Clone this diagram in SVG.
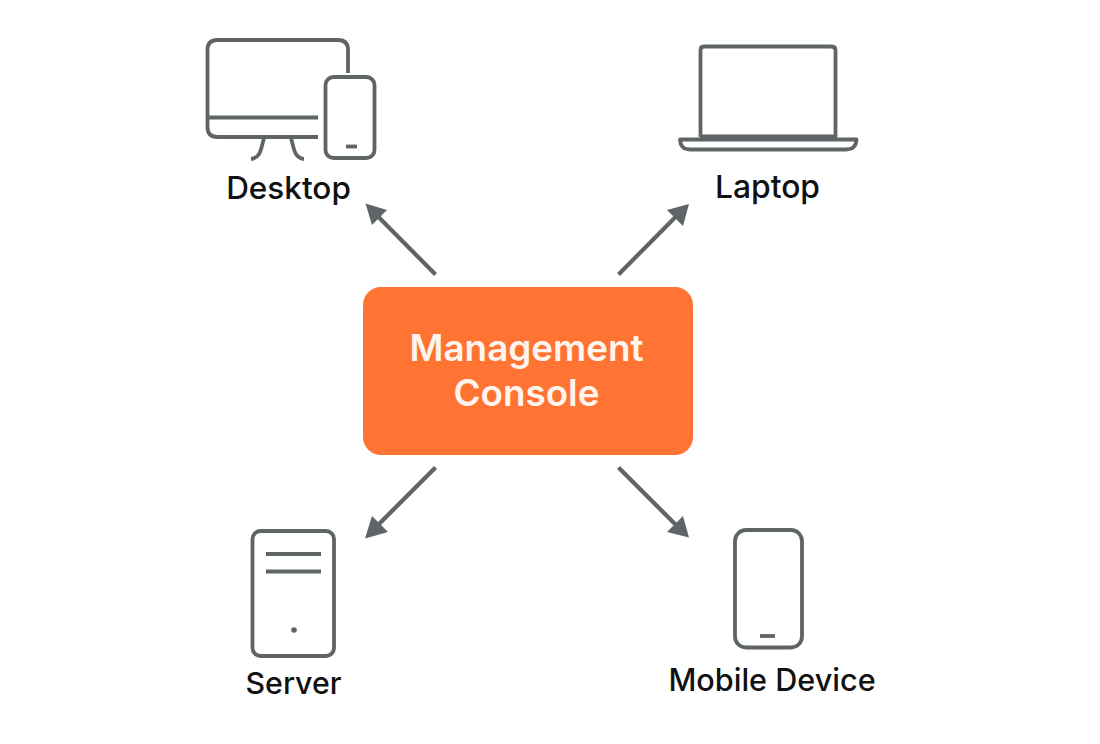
<svg xmlns="http://www.w3.org/2000/svg" width="1100" height="744" viewBox="0 0 1100 744">
<style>
.i{fill:none;stroke:#5f6467;stroke-width:3.8;stroke-linecap:butt;stroke-linejoin:round}
.c{fill:none;stroke:#5f6467;stroke-width:4.2}
.h{fill:#5f6467}
.l{font-family:Inter,"Liberation Sans",sans-serif;font-weight:500;fill:#111;text-anchor:middle}
.t{font-family:Inter,"Liberation Sans",sans-serif;font-size:36.8px;font-weight:600;fill:#fff5ee;text-anchor:middle}
</style>
<rect width="1100" height="744" fill="#fff"/>
<g id="connectors">
<line class="c" x1="435.500" y1="274.500" x2="378" y2="216.500"/>
<polygon class="h" points="365.500,203.500 387,210 372,225"/>
<line class="c" x1="618.500" y1="274.500" x2="676" y2="216.500"/>
<polygon class="h" points="689,204 667,210 683,226"/>
<line class="c" x1="435.500" y1="467.500" x2="378" y2="525"/>
<polygon class="h" points="365,538.500 372,516 388,532"/>
<line class="c" x1="618.500" y1="467.500" x2="676" y2="525"/>
<polygon class="h" points="689,537.500 667,532 683,516"/>
</g>
<g id="desktop">
<path class="i" d="M348 73V50Q348 40 338 40H217.500Q207.500 40 207.500 50V127Q207.500 137 217.500 137H318M207.500 117.500H318"/>
<rect class="i" x="325.500" y="77" width="49" height="81" rx="8"/>
<path class="i" d="M346 146.500H357"/>
<path class="i" d="M264 138C261 148 261 158 251 159M291 138C294 148 294 158 304 159"/>
<text class="l" x="288.500" y="198.500" font-size="31.500">Desktop</text>
</g>
<g id="laptop">
<path class="i" d="M700.500 137V50Q700.500 46.500 704.500 46.500H831Q835.500 46.500 835.500 50V137"/>
<path class="i" d="M680 139.500H856.500Q856 149.500 846 149.500H690Q680.500 149.500 680 139.500Z"/>
<path d="M700 134.500H837V139H700Z" class="h"/>
<text class="l" x="767.500" y="197.500" font-size="31.800">Laptop</text>
</g>
<g id="management-console">
<rect x="363" y="287" width="330" height="168" rx="18" fill="#ff7333"/>
<text class="t" x="526.500" y="361">Management</text>
<text class="t" x="526.500" y="406">Console</text>
</g>
<g id="server">
<rect class="i" x="252.500" y="531" width="81.500" height="125" rx="8"/>
<path class="i" d="M266 554H321M266 571.500H321"/>
<circle class="h" cx="294" cy="630" r="2.800"/>
<text class="l" x="293.500" y="693.500" font-size="30.300">Server</text>
</g>
<g id="mobile-device">
<rect class="i" x="735" y="530" width="67" height="117.500" rx="11"/>
<path class="i" d="M760 636H775"/>
<text class="l" x="772" y="690.500" font-size="30.600">Mobile Device</text>
</g>
</svg>
